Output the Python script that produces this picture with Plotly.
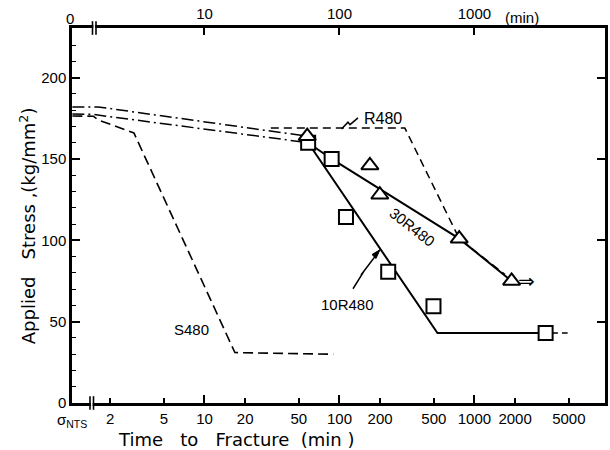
import plotly.graph_objects as go

# ---------------- data ----------------
# time to fracture (min) and applied stress (kg/mm^2)
t_s480 = [1.05, 1.5, 1.63, 3.0, 16.8, 90]
s_s480 = [176.4, 176.3, 174, 166, 31, 30]

t_dd_upper = [1.05, 1.63, 57.7]
s_dd_upper = [182, 182, 164]

t_dd_lower = [1.05, 1.49, 58.6]
s_dd_lower = [177.6, 177.4, 160]

t_r480 = [31, 305, 771, 1683]
s_r480 = [169, 169, 101, 79]

t_30r480_line = [58.6, 87.5, 771, 1884]
s_30r480_line = [160, 150, 101, 75]

t_10r480_line = [58.6, 532, 3366]
s_10r480_line = [160, 43, 43]
t_10r480_ext = [3750, 4900]
s_10r480_ext = [43, 43]

t_squares = [58.6, 87.5, 111.7, 229.6, 497, 3366]
s_squares = [160, 150, 114.4, 80.6, 59.5, 43]

t_triangles = [57.7, 168, 199, 771, 1884]
s_triangles = [164, 146, 128, 101, 75]

x_ticks = [2, 5, 10, 20, 50, 100, 200, 500, 1000, 2000, 5000]
x_ticktext = ["2", "5", "10", "20", "50", "100", "200", "500", "1000", "2000", "5000"]
top_ticks = [10, 100, 1000]
top_ticktext = ["10", "100", "1000"]
y_ticks = [0, 50, 100, 150, 200]

# ---------------- layout geometry ----------------
W, H = 610, 450
ML, MR, MT, MB = 72, 5, 19, 47
PW, PH = W - ML - MR, H - MT - MB


def px(x):
    return (x - ML) / PW


def py(y):
    return (H - MB - y) / PH


FONT = "Liberation Sans"
TFONT = "DejaVu Sans"
BLACK = "black"

fig = go.Figure()

# lines
fig.add_trace(go.Scatter(x=t_s480, y=s_s480, mode="lines",
                         line=dict(color=BLACK, width=1.6, dash="10px,5px")))
fig.add_trace(go.Scatter(x=t_dd_upper, y=s_dd_upper, mode="lines",
                         line=dict(color=BLACK, width=1.5, dash="12px,4px,2px,4px")))
fig.add_trace(go.Scatter(x=t_dd_lower, y=s_dd_lower, mode="lines",
                         line=dict(color=BLACK, width=1.5, dash="12px,4px,2px,4px")))
fig.add_trace(go.Scatter(x=t_r480, y=s_r480, mode="lines",
                         line=dict(color=BLACK, width=1.5, dash="8px,5px")))
fig.add_trace(go.Scatter(x=t_30r480_line, y=s_30r480_line, mode="lines",
                         line=dict(color=BLACK, width=2)))
fig.add_trace(go.Scatter(x=t_10r480_line, y=s_10r480_line, mode="lines",
                         line=dict(color=BLACK, width=2)))
fig.add_trace(go.Scatter(x=t_10r480_ext, y=s_10r480_ext, mode="lines",
                         line=dict(color=BLACK, width=1.6, dash="6px,4px")))

# markers
fig.add_trace(go.Scatter(x=t_squares, y=s_squares, mode="markers",
                         marker=dict(symbol="square", size=14, color="white",
                                     line=dict(color=BLACK, width=2))))
fig.add_trace(go.Scatter(x=t_triangles, y=s_triangles, mode="markers",
                         marker=dict(symbol="triangle-up", size=15, color="white",
                                     line=dict(color=BLACK, width=2))))

# dummy traces so the extra axes are drawn
fig.add_trace(go.Scatter(x=[None], y=[None], xaxis="x2", yaxis="y", showlegend=False))
fig.add_trace(go.Scatter(x=[None], y=[None], xaxis="x3", yaxis="y", showlegend=False))
fig.add_trace(go.Scatter(x=[None], y=[None], xaxis="x", yaxis="y2", showlegend=False))

XR = [0.0185, 3.967]
YR = [0, 230.5]
tickfont = dict(family=FONT, size=15, color=BLACK)

fig.update_layout(
    width=W, height=H,
    margin=dict(l=ML, r=MR, t=MT, b=MB, pad=0),
    paper_bgcolor="white", plot_bgcolor="white",
    showlegend=False,
    xaxis=dict(type="log", range=XR, showgrid=False, zeroline=False,
               showline=True, linecolor=BLACK, linewidth=2.5,
               ticks="inside", ticklen=5, tickwidth=1.5, tickcolor=BLACK,
               tickvals=x_ticks, ticktext=x_ticktext, tickfont=tickfont),
    xaxis2=dict(type="log", range=XR, overlaying="x", side="top",
                showgrid=False, zeroline=False,
                showline=True, linecolor=BLACK, linewidth=2.5,
                ticks="inside", ticklen=7, tickwidth=1.5, tickcolor=BLACK,
                tickvals=top_ticks, ticktext=top_ticktext, tickfont=tickfont),
    xaxis3=dict(type="log", range=XR, overlaying="x", side="bottom",
                showgrid=False, zeroline=False, showline=False,
                ticks="inside", ticklen=8, tickwidth=1.5, tickcolor=BLACK,
                tickvals=top_ticks, showticklabels=False),
    yaxis=dict(range=YR, showgrid=False, zeroline=False,
               showline=True, linecolor=BLACK, linewidth=2.5,
               ticks="inside", ticklen=8, tickwidth=1.5, tickcolor=BLACK,
               tickvals=y_ticks, tickfont=tickfont,
               minor=dict(dtick=10, ticks="inside", ticklen=4, tickwidth=1.2,
                          tickcolor=BLACK, showgrid=False)),
    yaxis2=dict(range=YR, overlaying="y", side="right", showgrid=False,
                zeroline=False, showline=True, linecolor=BLACK, linewidth=2.5,
                ticks="inside", ticklen=8, tickwidth=1.5, tickcolor=BLACK,
                tickvals=[50, 100, 150, 200], showticklabels=False),
)

# axis break marks
shapes = []
for (xa, xb, yc) in [(90, 93.5, 403), (92.5, 96, 19)]:
    shapes.append(dict(type="rect", xref="paper", yref="paper",
                       x0=px(xa + 0.8), x1=px(xb - 0.8), y0=py(yc + 3), y1=py(yc - 3),
                       fillcolor="white", line=dict(width=0), layer="above"))
    for xx in (xa, xb):
        shapes.append(dict(type="line", xref="paper", yref="paper",
                           x0=px(xx), x1=px(xx), y0=py(yc + 7), y1=py(yc - 7),
                           line=dict(color=BLACK, width=1.6), layer="above"))


# lightning leaders (R480 and 10R480)
def path(points):
    s = "M {} {}".format(px(points[0][0]), py(points[0][1]))
    for p in points[1:]:
        s += " L {} {}".format(px(p[0]), py(p[1]))
    return s


shapes.append(dict(type="path", xref="paper", yref="paper",
                   path=path([(341.5, 122.5), (348, 115.5), (350, 118), (358, 111)]),
                   line=dict(color=BLACK, width=1.5)))
shapes.append(dict(type="path", xref="paper", yref="paper",
                   path=path([(353, 286), (364, 268), (361, 272), (378, 249)]),
                   line=dict(color=BLACK, width=1.5)))
shapes.append(dict(type="path", xref="paper", yref="paper",
                   path=path([(376, 255), (380, 246), (372, 251), (376, 255)]),
                   fillcolor=BLACK, line=dict(color=BLACK, width=1)))
fig.update_layout(shapes=shapes)

ann = []


def text(x, y, s, size=15, angle=0, xanchor="center", family=FONT):
    ann.append(dict(x=px(x), y=py(y), xref="paper", yref="paper", text=s,
                    showarrow=False, textangle=angle, xanchor=xanchor, yanchor="middle",
                    font=dict(family=family, size=size, color=BLACK)))


text(70, 9, "0", size=15)
text(522, 8, "(min)", size=15)
text(72, 421, "σ<sub>NTS</sub>", size=15)
text(236, 440, "Time\u00a0\u00a0 to\u00a0\u00a0 Fracture\u00a0 (min\u00a0)", size=18, family=TFONT)
text(28, 222, "Applied\u00a0\u00a0 Stress ,(kg/mm<sup>2</sup>)", size=18, angle=-90, family=TFONT)
text(362, 112, "R480", size=16, xanchor="left")
text(347, 302, "10R480", size=15)
text(191, 328, "S480", size=15)
text(413, 223, "30R480", size=15, angle=38)
text(526, 278, "⇒", size=20, family=TFONT)
fig.update_layout(annotations=ann)

fig.write_html("out.html")
